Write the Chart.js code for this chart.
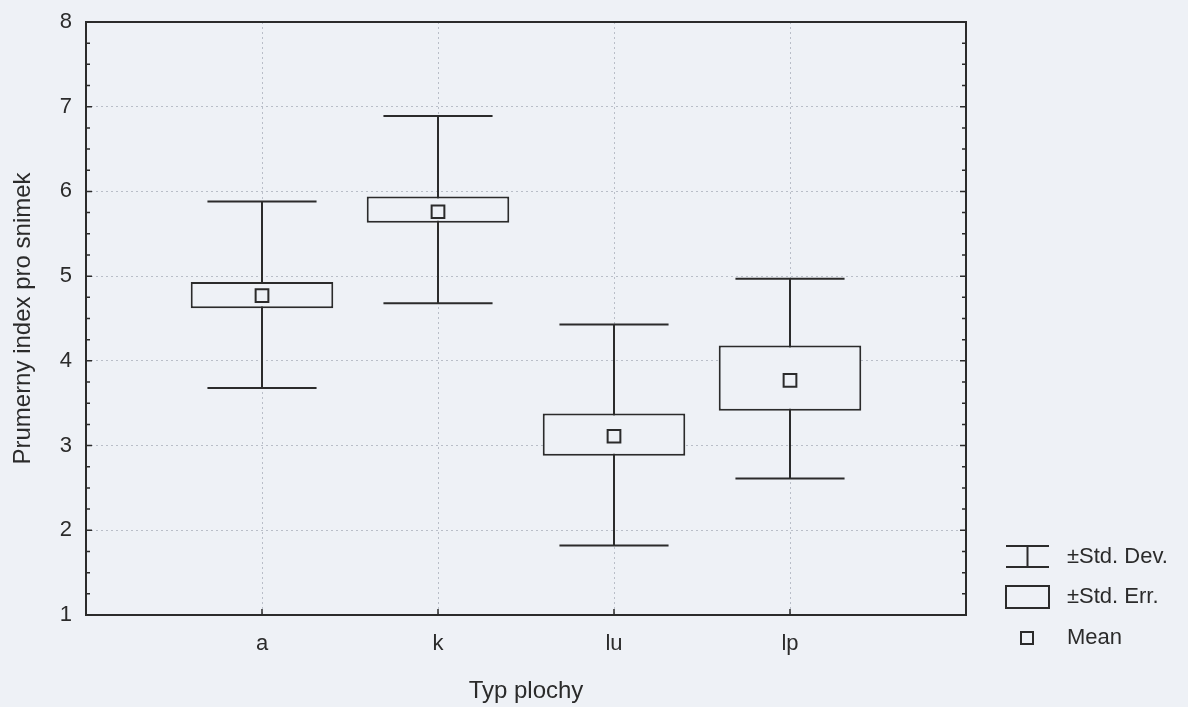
<!DOCTYPE html>
<html>
<head>
<meta charset="utf-8">
<script src="https://cdn.jsdelivr.net/npm/chart.js@4"></script>
<style>
  html, body { margin: 0; padding: 0; background: #eef1f6; }
  #wrap { width: 1188px; height: 707px; }
</style>
</head>
<body>
<div id="wrap"><canvas id="chart" width="1188" height="707"></canvas></div>
<script>
const categories = ['a', 'k', 'lu', 'lp'];
const means = [4.77, 5.76, 3.11, 3.77];
const seLow = [4.62, 5.63, 2.88, 3.41];
const seHigh = [4.93, 5.94, 3.38, 4.18];
const sdLow = [3.68, 4.68, 1.82, 2.61];
const sdHigh = [5.88, 6.89, 4.43, 4.97];
const yTicks = [1, 2, 3, 4, 5, 6, 7, 8];

const BG = '#eef1f6';
const INK = '#2b2b2b';
const FONT = "'Liberation Sans', Arial, sans-serif";

// background, frame, inward ticks, whiskers and legend
const decor = {
    id: 'decor',
    beforeDraw(chart) {
        const ctx = chart.ctx;
        ctx.save();
        ctx.fillStyle = BG;
        ctx.fillRect(0, 0, chart.width, chart.height);
        ctx.restore();
    },
    beforeDatasetsDraw(chart) {
        const ctx = chart.ctx;
        const x = chart.scales.x, y = chart.scales.y;
        ctx.save();
        ctx.strokeStyle = INK;
        ctx.lineWidth = 2;
        categories.forEach((c, i) => {
            const px = x.getPixelForValue(i + 1);
            const capL = x.getPixelForValue(i + 1 - 0.31);
            const capR = x.getPixelForValue(i + 1 + 0.31);
            const top = y.getPixelForValue(sdHigh[i]);
            const bot = y.getPixelForValue(sdLow[i]);
            ctx.beginPath();
            ctx.moveTo(px, top); ctx.lineTo(px, bot);
            ctx.moveTo(capL, top); ctx.lineTo(capR, top);
            ctx.moveTo(capL, bot); ctx.lineTo(capR, bot);
            ctx.stroke();
        });
        ctx.restore();
    },
    afterDraw(chart) {
        const ctx = chart.ctx;
        const a = chart.chartArea;
        const x = chart.scales.x, y = chart.scales.y;
        ctx.save();
        ctx.strokeStyle = INK;
        ctx.lineWidth = 2;
        ctx.strokeRect(a.left, a.top, a.right - a.left, a.bottom - a.top);

        // minor ticks on left and right edges
        ctx.lineWidth = 1.5;
        ctx.beginPath();
        for (let v = y.min; v <= y.max + 1e-9; v += 0.25) {
            const py = y.getPixelForValue(v);
            const len = Number.isInteger(v) ? 6 : 4;
            ctx.moveTo(a.left, py); ctx.lineTo(a.left + len, py);
            ctx.moveTo(a.right, py); ctx.lineTo(a.right - len, py);
        }
        categories.forEach((c, i) => {
            const px = x.getPixelForValue(i + 1);
            ctx.moveTo(px, a.bottom); ctx.lineTo(px, a.bottom - 6);
        });
        ctx.stroke();

        // legend
        const lx = 1006, rx = 1049, tx = 1067;
        ctx.lineWidth = 2;
        ctx.beginPath();
        ctx.moveTo(lx, 546); ctx.lineTo(rx, 546);
        ctx.moveTo(lx, 567); ctx.lineTo(rx, 567);
        ctx.moveTo((lx + rx) / 2, 546); ctx.lineTo((lx + rx) / 2, 567);
        ctx.stroke();
        ctx.strokeRect(lx, 586, rx - lx, 22);
        ctx.strokeRect(1021, 632, 12, 12);

        ctx.fillStyle = INK;
        ctx.font = '22px ' + FONT;
        ctx.textBaseline = 'middle';
        ctx.textAlign = 'left';
        ctx.fillText('\u00b1Std. Dev.', tx, 557);
        ctx.fillText('\u00b1Std. Err.', tx, 597);
        ctx.fillText('Mean', tx, 638);
        ctx.restore();
    }
};

new Chart(document.getElementById('chart'), {
    type: 'bar',
    data: {
        datasets: [
            {
                type: 'line',
                label: 'Mean',
                data: means.map((m, i) => ({ x: i + 1, y: m })),
                showLine: false,
                pointStyle: 'rect',
                pointRadius: 9,
                pointBackgroundColor: BG,
                pointBorderColor: INK,
                pointBorderWidth: 2,
                order: 0
            },
            {
                label: '\u00b1Std. Err.',
                data: categories.map((c, i) => ({ x: i + 1, y: [seLow[i], seHigh[i]] })),
                backgroundColor: BG,
                borderColor: INK,
                borderWidth: 2,
                borderSkipped: false,
                barPercentage: 0.81,
                categoryPercentage: 1,
                order: 1
            }
        ]
    },
    options: {
        responsive: false,
        animation: false,
        layout: { padding: { left: 5, top: 22, right: 222, bottom: 0 } },
        plugins: { legend: { display: false }, tooltip: { enabled: false } },
        scales: {
            x: {
                type: 'linear',
                min: 0,
                max: 5,
                offset: false,
                afterBuildTicks: s => { s.ticks = categories.map((c, i) => ({ value: i + 1 })); },
                afterFit: s => { s.height = 92; s.paddingLeft = 0; s.paddingRight = 0; },
                ticks: {
                    callback: v => categories[v - 1],
                    color: INK,
                    font: { family: FONT, size: 22 },
                    padding: 16,
                    maxRotation: 0
                },
                grid: { color: '#b9bec8', lineWidth: 1, drawTicks: false, offset: false },
                border: { display: false, dash: [2, 3] },
                title: {
                    display: true,
                    text: 'Typ plochy',
                    color: INK,
                    font: { family: FONT, size: 24 },
                    padding: { top: 0, bottom: 1 }
                }
            },
            y: {
                min: 1,
                max: 8,
                afterBuildTicks: s => { s.ticks = yTicks.map(v => ({ value: v })); },
                afterFit: s => { s.width = 81; s.paddingTop = 0; s.paddingBottom = 0; },
                ticks: {
                    color: INK,
                    font: { family: FONT, size: 22 },
                    padding: 14
                },
                grid: { color: '#b9bec8', lineWidth: 1, drawTicks: false },
                border: { display: false, dash: [2, 3] },
                title: {
                    display: true,
                    text: 'Prumerny index pro snimek',
                    color: INK,
                    font: { family: FONT, size: 24 }
                }
            }
        }
    },
    plugins: [decor]
});
</script>
</body>
</html>
